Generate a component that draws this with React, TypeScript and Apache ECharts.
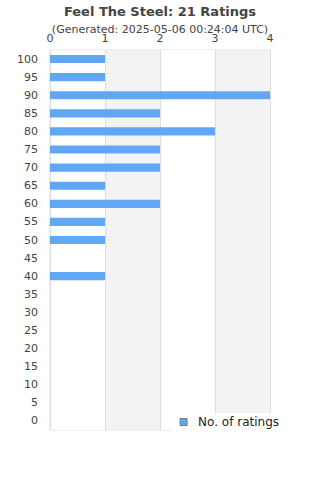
import React, { useEffect, useRef } from "react";
import * as echarts from "echarts";

const categories = ["0","5","10","15","20","25","30","35","40","45","50","55","60","65","70","75","80","85","90","95","100"];
const ratings = [0,0,0,0,0,0,0,0,1,0,1,1,2,1,2,2,3,2,4,1,1];
const xTicks = [0, 1, 2, 3, 4];

export default function App() {
  const ref = useRef<HTMLDivElement>(null);
  useEffect(() => {
    const chart = echarts.init(ref.current!, null, { renderer: "svg" });
    chart.setOption({
      animation: false,
      title: {
        text: "Feel The Steel: 21 Ratings",
        subtext: "(Generated: 2025-05-06 00:24:04 UTC)",
        left: "center",
        top: 0,
        itemGap: 6,
        textStyle: { fontSize: 13, fontWeight: "bold", color: "#444", fontFamily: "DejaVu Sans" },
        subtextStyle: { fontSize: 11, color: "#444", fontFamily: "DejaVu Sans" },
      },
      grid: { left: 50, right: 50, top: 50, bottom: 50, show: true, borderColor: "#ddd", borderWidth: 1 },
      xAxis: {
        type: "value",
        position: "top",
        min: xTicks[0],
        max: xTicks[xTicks.length - 1],
        interval: 1,
        axisLine: { show: false },
        axisTick: { show: false },
        axisLabel: { fontSize: 11, color: "#444", fontFamily: "DejaVu Sans", margin: 6 },
        splitLine: { show: true, lineStyle: { color: "#ddd" } },
        splitArea: { show: true, areaStyle: { color: ["#ffffff", "#f3f3f3"] } },
      },
      yAxis: {
        type: "category",
        data: categories,
        axisLine: { show: false },
        axisTick: { show: false },
        axisLabel: { fontSize: 11, color: "#444", fontFamily: "DejaVu Sans", margin: 12, interval: 0 },
      },
      legend: {
        data: ["No. of ratings"],
        icon: "rect",
        right: 33,
        bottom: 49,
        backgroundColor: "#fff",
        padding: [3, 8, 3, 8],
        itemWidth: 7,
        itemHeight: 7,
        itemGap: 10,
        itemStyle: { borderColor: "#777", borderWidth: 1 },
        textStyle: { fontSize: 12, color: "#222", fontFamily: "DejaVu Sans", padding: [0, 0, 0, 6] },
      },
      series: [
        {
          name: "No. of ratings",
          type: "bar",
          data: ratings,
          barWidth: "45%",
          itemStyle: { color: "#60a8f5" },
          emphasis: { disabled: true },
        },
      ],
    });
    return () => chart.dispose();
  }, []);
  return <div ref={ref} style={{ width: 320, height: 480, position: "absolute", left: 0, top: 0 }} />;
}
